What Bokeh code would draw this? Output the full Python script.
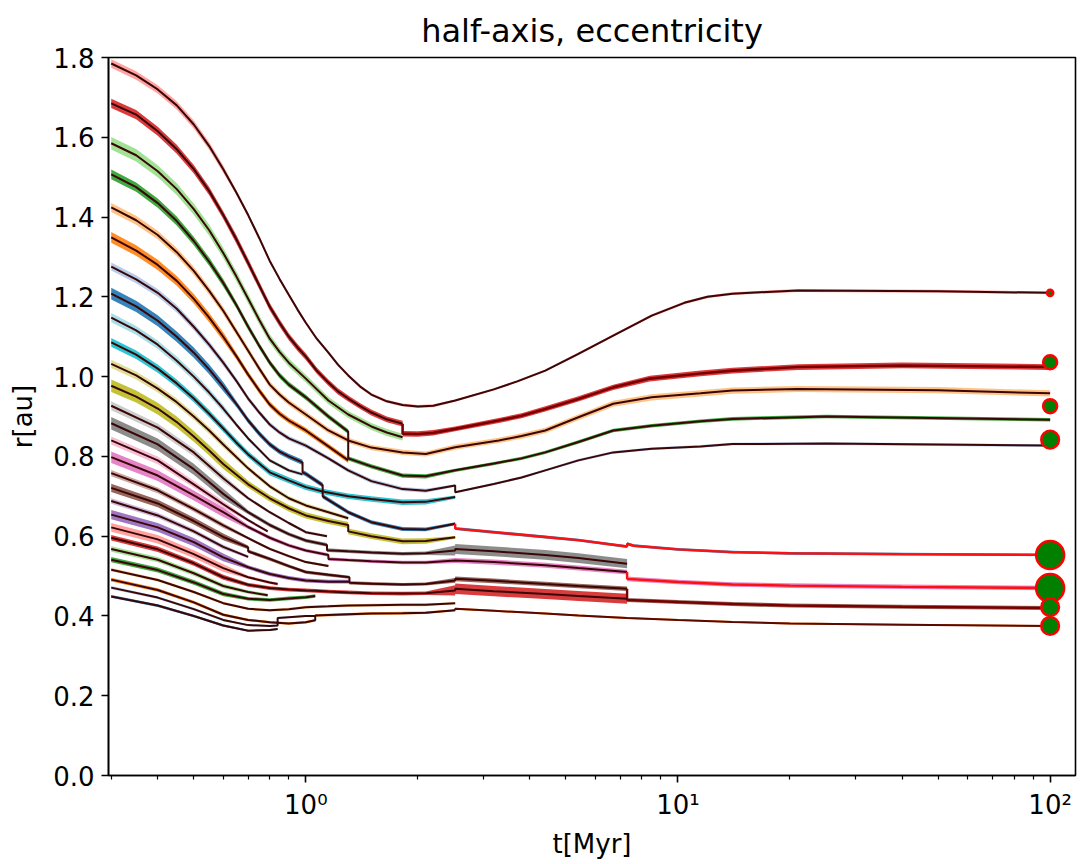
from bokeh.plotting import figure
from bokeh.models import Range1d, FixedTicker, PrintfTickFormatter
from bokeh.embed import file_html
from bokeh.resources import INLINE

# ---------------- data (t in Myr, a in au) ----------------
tr01_t = [0.3, 0.35, 0.4, 0.45, 0.5, 0.55, 0.6, 0.65, 0.7, 0.75, 0.8, 0.85, 0.9, 0.95, 1.0, 1.07, 1.15, 1.22, 1.3, 1.4, 1.5, 1.65, 1.82, 2.0, 2.2, 2.52, 3.2, 3.7, 4.4, 5.4, 6.7, 8.5, 10.4, 12, 14, 21, 50, 100]
tr01_a = [1.785, 1.755, 1.72, 1.68, 1.632, 1.578, 1.52, 1.462, 1.405, 1.347, 1.29, 1.245, 1.205, 1.168, 1.135, 1.095, 1.06, 1.03, 1.003, 0.975, 0.955, 0.938, 0.929, 0.925, 0.927, 0.94, 0.968, 0.988, 1.015, 1.057, 1.103, 1.153, 1.185, 1.2, 1.208, 1.216, 1.214, 1.21]
tr02_t = [0.3, 0.35, 0.4, 0.45, 0.5, 0.55, 0.6, 0.65, 0.7, 0.75, 0.8, 0.85, 0.9, 0.95, 1.0, 1.07, 1.15, 1.22, 1.3, 1.4, 1.5, 1.65, 1.82, 1.82, 2.0, 2.2, 2.52, 3.3, 3.8, 4.4, 5.4, 6.7, 8.4, 11.5, 14, 21, 40, 100]
tr02_a = [1.685, 1.657, 1.615, 1.57, 1.52, 1.465, 1.405, 1.345, 1.285, 1.228, 1.175, 1.135, 1.10, 1.073, 1.05, 1.015, 0.985, 0.963, 0.945, 0.926, 0.91, 0.893, 0.882, 0.857, 0.856, 0.859, 0.869, 0.89, 0.902, 0.919, 0.944, 0.973, 0.995, 1.008, 1.015, 1.024, 1.028, 1.024]
tr03_t = [0.3, 0.35, 0.4, 0.45, 0.5, 0.55, 0.6, 0.65, 0.7, 0.75, 0.8, 0.85, 0.9, 1.0, 1.15, 1.3, 1.5, 1.65, 1.82]
tr03_a = [1.585, 1.555, 1.515, 1.47, 1.42, 1.367, 1.31, 1.252, 1.195, 1.142, 1.095, 1.062, 1.035, 0.995, 0.94, 0.905, 0.875, 0.86, 0.848]
tr04_t = [0.3, 0.35, 0.4, 0.45, 0.5, 0.55, 0.6, 0.65, 0.7, 0.75, 0.8, 0.85, 0.9, 1.0, 1.15, 1.3, 1.3, 1.5, 1.82, 2.1, 2.52, 3.2, 3.8, 4.4, 5.4, 6.7, 8.5, 11.5, 14, 25, 100]
tr04_a = [1.507, 1.475, 1.435, 1.39, 1.34, 1.288, 1.235, 1.18, 1.125, 1.077, 1.035, 1.003, 0.98, 0.948, 0.90, 0.862, 0.795, 0.775, 0.752, 0.75, 0.765, 0.782, 0.795, 0.81, 0.836, 0.865, 0.877, 0.888, 0.894, 0.90, 0.892]
tr05_t = [0.3, 0.35, 0.4, 0.45, 0.5, 0.55, 0.6, 0.65, 0.7, 0.75, 0.8, 0.85, 0.9, 1.0, 1.15, 1.3, 1.5, 1.82, 2.1, 2.52, 3.3, 3.8, 4.4, 5.4, 6.7, 8.5, 11.5, 14, 21, 50, 100]
tr05_a = [1.424, 1.392, 1.355, 1.312, 1.265, 1.215, 1.165, 1.113, 1.065, 1.02, 0.98, 0.955, 0.935, 0.905, 0.865, 0.84, 0.822, 0.81, 0.806, 0.823, 0.84, 0.851, 0.865, 0.898, 0.932, 0.948, 0.958, 0.965, 0.969, 0.966, 0.958]
tr06_t = [0.3, 0.35, 0.4, 0.45, 0.5, 0.55, 0.6, 0.65, 0.7, 0.75, 0.8, 0.85, 0.9, 1.0, 1.15, 1.3]
tr06_a = [1.349, 1.316, 1.28, 1.24, 1.195, 1.148, 1.10, 1.052, 1.005, 0.965, 0.93, 0.907, 0.89, 0.865, 0.825, 0.79]
tr07_t = [0.3, 0.35, 0.4, 0.45, 0.5, 0.55, 0.6, 0.65, 0.7, 0.75, 0.8, 0.85, 0.9, 1.0, 1.15, 1.3, 1.5, 1.82, 2.1, 2.52, 2.52, 3.2, 3.8, 4.4, 5.4, 6.7, 8.5, 11.5, 14, 25, 100]
tr07_a = [1.276, 1.244, 1.21, 1.17, 1.125, 1.08, 1.035, 0.99, 0.945, 0.91, 0.88, 0.86, 0.845, 0.827, 0.795, 0.765, 0.738, 0.718, 0.714, 0.727, 0.71, 0.731, 0.747, 0.765, 0.79, 0.81, 0.819, 0.825, 0.831, 0.832, 0.827]
tr08_t = [0.3, 0.35, 0.4, 0.45, 0.5, 0.55, 0.6, 0.65, 0.7, 0.75, 0.8, 0.85, 0.9, 0.98, 0.98, 1.0, 1.11, 1.11, 1.3, 1.5, 1.82, 2.1, 2.52, 2.52, 3.2, 4.4, 5.4, 7.3, 7.3, 7.6, 10, 14, 20, 40, 100]
tr08_a = [1.208, 1.176, 1.14, 1.10, 1.06, 1.018, 0.975, 0.932, 0.89, 0.857, 0.83, 0.812, 0.80, 0.785, 0.76, 0.756, 0.728, 0.70, 0.66, 0.635, 0.618, 0.617, 0.631, 0.619, 0.61, 0.598, 0.59, 0.574, 0.581, 0.576, 0.567, 0.56, 0.557, 0.555, 0.553]
tr09_t = [0.3, 0.35, 0.4, 0.45, 0.5, 0.55, 0.6, 0.65, 0.7, 0.8, 0.9, 0.98]
tr09_a = [1.148, 1.116, 1.08, 1.04, 1.0, 0.96, 0.92, 0.88, 0.845, 0.79, 0.765, 0.755]
tr10_t = [0.3, 0.35, 0.4, 0.45, 0.5, 0.55, 0.6, 0.65, 0.7, 0.8, 0.9, 1.0, 1.11, 1.3, 1.5, 1.82, 2.1, 2.52]
tr10_a = [1.086, 1.055, 1.02, 0.983, 0.945, 0.907, 0.87, 0.835, 0.805, 0.76, 0.74, 0.723, 0.712, 0.70, 0.693, 0.685, 0.686, 0.698]
tr11_t = [0.3, 0.35, 0.4, 0.45, 0.5, 0.55, 0.6, 0.7, 0.8, 0.9, 1.0, 1.15, 1.3]
tr11_a = [1.032, 1.003, 0.97, 0.936, 0.90, 0.865, 0.83, 0.77, 0.725, 0.695, 0.677, 0.66, 0.645]
tr12_t = [0.3, 0.35, 0.4, 0.45, 0.5, 0.55, 0.6, 0.7, 0.8, 0.9, 1.0, 1.15, 1.3, 1.3, 1.5, 1.82, 2.1, 2.52]
tr12_a = [0.977, 0.95, 0.92, 0.886, 0.85, 0.815, 0.781, 0.73, 0.695, 0.67, 0.652, 0.638, 0.628, 0.612, 0.60, 0.587, 0.588, 0.597]
tr13_t = [0.3, 0.4, 0.5, 0.6, 0.7, 0.8, 0.9, 1.0, 1.14]
tr13_a = [0.927, 0.872, 0.81, 0.745, 0.695, 0.66, 0.633, 0.61, 0.60]
tr14_t = [0.3, 0.4, 0.5, 0.6, 0.7, 0.8, 0.9, 1.0, 1.14, 1.14, 1.3, 1.5, 1.82, 2.1, 2.52, 2.52, 3.2, 4.4, 5.4, 7.3]
tr14_a = [0.883, 0.83, 0.768, 0.706, 0.66, 0.628, 0.605, 0.589, 0.578, 0.565, 0.562, 0.559, 0.556, 0.557, 0.564, 0.568, 0.562, 0.553, 0.545, 0.531]
tr15_t = [0.3, 0.4, 0.5, 0.6, 0.7, 0.79]
tr15_a = [0.84, 0.79, 0.73, 0.68, 0.64, 0.612]
tr16_t = [0.3, 0.4, 0.5, 0.6, 0.7, 0.8, 0.9, 1.0, 1.15, 1.15, 1.3, 1.5, 1.82, 2.1, 2.52, 3.2, 4.4, 5.4, 7.3, 7.3, 10, 14, 20, 40, 100]
tr16_a = [0.798, 0.752, 0.702, 0.66, 0.623, 0.596, 0.577, 0.564, 0.553, 0.543, 0.54, 0.537, 0.534, 0.534, 0.539, 0.535, 0.527, 0.52, 0.51, 0.493, 0.485, 0.479, 0.476, 0.473, 0.47]
tr17_t = [0.3, 0.4, 0.5, 0.6, 0.7, 0.8, 0.9, 1.0, 1.15]
tr17_a = [0.758, 0.715, 0.668, 0.627, 0.595, 0.568, 0.55, 0.535, 0.525]
tr18_t = [0.3, 0.4, 0.5, 0.6, 0.7, 0.7, 0.8, 0.9, 1.0, 1.15, 1.31, 1.31, 1.5, 1.82, 2.1, 2.52, 2.52, 3.2, 4.4, 5.4, 7.3, 7.3, 10, 14, 20, 40, 100]
tr18_a = [0.721, 0.682, 0.638, 0.598, 0.572, 0.562, 0.543, 0.525, 0.51, 0.503, 0.497, 0.483, 0.481, 0.479, 0.48, 0.489, 0.493, 0.488, 0.48, 0.475, 0.468, 0.44, 0.435, 0.43, 0.426, 0.423, 0.42]
tr19_t = [0.3, 0.4, 0.5, 0.6, 0.7]
tr19_a = [0.688, 0.652, 0.612, 0.573, 0.548]
tr20_t = [0.3, 0.4, 0.5, 0.6, 0.7, 0.8, 0.9, 1.0, 1.15, 1.31]
tr20_a = [0.654, 0.622, 0.585, 0.547, 0.522, 0.505, 0.495, 0.489, 0.486, 0.486]
tr21_t = [0.3, 0.4, 0.5, 0.6, 0.7, 0.8, 0.84]
tr21_a = [0.622, 0.592, 0.555, 0.52, 0.497, 0.484, 0.48]
tr22_t = [0.3, 0.4, 0.5, 0.6, 0.7, 0.8, 0.9, 1.0, 1.06, 1.15, 1.3, 1.5, 1.82, 2.1, 2.52, 2.52, 3.2, 4.4, 5.4, 7.3]
tr22_a = [0.596, 0.567, 0.532, 0.497, 0.478, 0.47, 0.466, 0.464, 0.463, 0.461, 0.459, 0.457, 0.456, 0.457, 0.464, 0.468, 0.462, 0.455, 0.45, 0.443]
tr23_t = [0.3, 0.4, 0.5, 0.6, 0.7, 0.79]
tr23_a = [0.568, 0.541, 0.507, 0.475, 0.46, 0.452]
tr24_t = [0.3, 0.4, 0.5, 0.6, 0.7, 0.8, 0.9, 1.0, 1.06]
tr24_a = [0.541, 0.515, 0.484, 0.455, 0.443, 0.44, 0.444, 0.447, 0.45]
tr25_t = [0.3, 0.4, 0.5, 0.6, 0.7, 0.8, 0.9, 1.0, 1.15, 1.3, 1.5, 1.82, 2.1, 2.52]
tr25_a = [0.516, 0.49, 0.46, 0.432, 0.418, 0.414, 0.417, 0.422, 0.424, 0.426, 0.427, 0.428, 0.428, 0.432]
tr26_t = [0.3, 0.4, 0.5, 0.6, 0.7, 0.8, 0.9, 1.0, 1.06, 1.06, 1.3, 1.5, 1.82, 2.1, 2.52, 2.52, 3.2, 4.4, 5.4, 7.3, 10, 14, 20, 40, 100]
tr26_a = [0.491, 0.465, 0.434, 0.403, 0.39, 0.384, 0.381, 0.384, 0.389, 0.401, 0.404, 0.406, 0.407, 0.408, 0.414, 0.418, 0.413, 0.406, 0.401, 0.395, 0.39, 0.385, 0.381, 0.378, 0.375]
tr27_t = [0.3, 0.4, 0.5, 0.6, 0.7, 0.8, 0.84, 0.84, 0.9, 1.0, 1.06]
tr27_a = [0.471, 0.446, 0.417, 0.39, 0.377, 0.375, 0.376, 0.395, 0.397, 0.40, 0.40]
tr28_t = [0.3, 0.4, 0.5, 0.6, 0.7, 0.8, 0.84]
tr28_a = [0.449, 0.426, 0.40, 0.376, 0.363, 0.365, 0.367]

# eccentricity of each body in three phases (t<=0.6, 0.6<t<2.52, t>=2.52)
ecc_early = [0.006, 0.007, 0.010, 0.008, 0.008, 0.010, 0.008, 0.012,
             0.010, 0.010, 0.010, 0.016, 0.012, 0.018, 0.012, 0.018,
             0.010, 0.014, 0.010, 0.018, 0.018, 0.012, 0.012, 0.012,
             0.008, 0.010, 0.008, 0.008]
ecc_mid = [0.004, 0.008, 0.010, 0.007, 0.008, 0.008, 0.007, 0.008,
           0.006, 0.010, 0.008, 0.012, 0.006, 0.008, 0.006, 0.008,
           0.006, 0.008, 0.006, 0.010, 0.008, 0.010, 0.010, 0.010,
           0.008, 0.008, 0.006, 0.006]
ecc_late = [0.003, 0.007, 0.006, 0.005, 0.008, 0.006, 0.004, 0.006,
            0.006, 0.006, 0.006, 0.006, 0.006, 0.022, 0.006, 0.012,
            0.006, 0.012, 0.006, 0.006, 0.006, 0.028, 0.006, 0.006,
            0.006, 0.006, 0.006, 0.006]

# final bodies at t = 100 Myr
final_t = [100, 100, 100, 100, 100, 100, 100, 100]
final_a = [1.21, 1.036, 0.926, 0.842, 0.553, 0.470, 0.422, 0.375]
final_mass = [0.05, 0.25, 0.25, 0.4, 1.0, 1.0, 0.4, 0.4]

track_t = [tr01_t, tr02_t, tr03_t, tr04_t, tr05_t, tr06_t, tr07_t, tr08_t, tr09_t, tr10_t,
           tr11_t, tr12_t, tr13_t, tr14_t, tr15_t, tr16_t, tr17_t, tr18_t, tr19_t, tr20_t,
           tr21_t, tr22_t, tr23_t, tr24_t, tr25_t, tr26_t, tr27_t, tr28_t]
track_a = [tr01_a, tr02_a, tr03_a, tr04_a, tr05_a, tr06_a, tr07_a, tr08_a, tr09_a, tr10_a,
           tr11_a, tr12_a, tr13_a, tr14_a, tr15_a, tr16_a, tr17_a, tr18_a, tr19_a, tr20_a,
           tr21_a, tr22_a, tr23_a, tr24_a, tr25_a, tr26_a, tr27_a, tr28_a]

# ---------------- styles ----------------
band_colors = ["#ff9896", "#d62728", "#98df8a", "#2ca02c", "#ffbb78", "#ff7f0e", "#aec7e8", "#1f77b4",
               "#9edae5", "#17becf", "#dbdb8d", "#bcbd22", "#c7c7c7", "#7f7f7f", "#f7b6d2", "#e377c2",
               "#c49c94", "#8c564b", "#c5b0d5", "#9467bd", "#ff9896", "#d62728", "#98df8a", "#2ca02c",
               "#ffbb78", "#ff7f0e", "#aec7e8", "#1f77b4"]
DARK = "#3a0606"
late_line = {1: (1.82, "#7d0000", 2.6), 7: (2.52, "#ff1010", 2.4), 15: (7.3, "#ff1010", 2.4),
             17: (7.3, "#7a0000", 2.4), 25: (2.52, "#5a0800", 2.0)}

FONT = "DejaVu Sans"

p = figure(width=1080, height=864, x_axis_type="log",
           x_range=Range1d(0.295, 117), y_range=Range1d(0, 1.8),
           output_backend="svg", toolbar_location=None,
           title="half-axis, eccentricity",
           min_border_left=108, min_border_right=5, min_border_top=57, min_border_bottom=89)
p.background_fill_color = "white"
p.border_fill_color = "white"
p.xgrid.visible = False
p.ygrid.visible = False
p.outline_line_color = "black"
p.outline_line_width = 1.6
p.outline_line_alpha = 1.0

p.title.align = "center"
p.title.text_font = FONT
p.title.text_font_size = "32px"
p.title.text_font_style = "normal"
p.title.text_color = "black"
p.title.standoff = 16

def ecc_for(i, t):
    if t <= 0.6:
        return ecc_early[i]
    if t < 2.52:
        return ecc_mid[i]
    return ecc_late[i]

# bands
for i, (ts, as_) in enumerate(zip(track_t, track_a)):
    lo = []
    hi = []
    for t, a in zip(ts, as_):
        e = ecc_for(i, t)
        lo.append(a * (1 - e))
        hi.append(a * (1 + e))
    p.varea(x=ts, y1=lo, y2=hi, fill_color=band_colors[i], fill_alpha=0.9)

# lines
for i, (ts, as_) in enumerate(zip(track_t, track_a)):
    if i in late_line:
        tsw, col, w = late_line[i]
        k = next(j for j, t in enumerate(ts) if t >= tsw)
        p.line(x=ts[:k + 1], y=as_[:k + 1], line_color=DARK, line_width=2.0)
        p.line(x=ts[k:], y=as_[k:], line_color=col, line_width=w)
    else:
        p.line(x=ts, y=as_, line_color=DARK, line_width=2.0)

# final bodies
sizes = [28 * (m ** 0.5) for m in final_mass]
p.scatter(x=final_t, y=final_a, size=sizes, marker="circle",
          fill_color="#007f00", line_color="#ff0000", line_width=2.5)

# axes
p.xaxis.ticker = FixedTicker(ticks=[1, 10, 100],
                             minor_ticks=[0.3, 0.4, 0.5, 0.6, 0.7, 0.8, 0.9,
                                          2, 3, 4, 5, 6, 7, 8, 9,
                                          20, 30, 40, 50, 60, 70, 80, 90])
p.xaxis.major_label_overrides = {1: "10⁰", 10: "10¹", 100: "10²"}
p.yaxis.ticker = FixedTicker(ticks=[0.0, 0.2, 0.4, 0.6, 0.8, 1.0, 1.2, 1.4, 1.6, 1.8])
p.yaxis.formatter = PrintfTickFormatter(format="%.1f")
p.xaxis.axis_label = "t[Myr]"
p.yaxis.axis_label = "r[au]"

for ax in (p.xaxis[0], p.yaxis[0]):
    ax.axis_line_width = 1.6
    ax.axis_line_color = "black"
    ax.major_tick_out = 7
    ax.major_tick_in = 0
    ax.major_tick_line_width = 1.6
    ax.minor_tick_line_width = 1.2
    ax.major_label_text_font = FONT
    ax.major_label_text_font_size = "26px"
    ax.major_label_text_color = "black"
    ax.axis_label_text_font = FONT
    ax.axis_label_text_font_size = "26px"
    ax.axis_label_text_font_style = "normal"
    ax.axis_label_text_color = "black"
    ax.major_label_standoff = 7

p.xaxis.minor_tick_out = 4
p.xaxis.minor_tick_in = 0
p.yaxis.minor_tick_out = 0
p.yaxis.minor_tick_in = 0
p.xaxis.axis_label_standoff = 6
p.yaxis.axis_label_standoff = 12

open("out.html", "w").write(file_html(p, INLINE))
